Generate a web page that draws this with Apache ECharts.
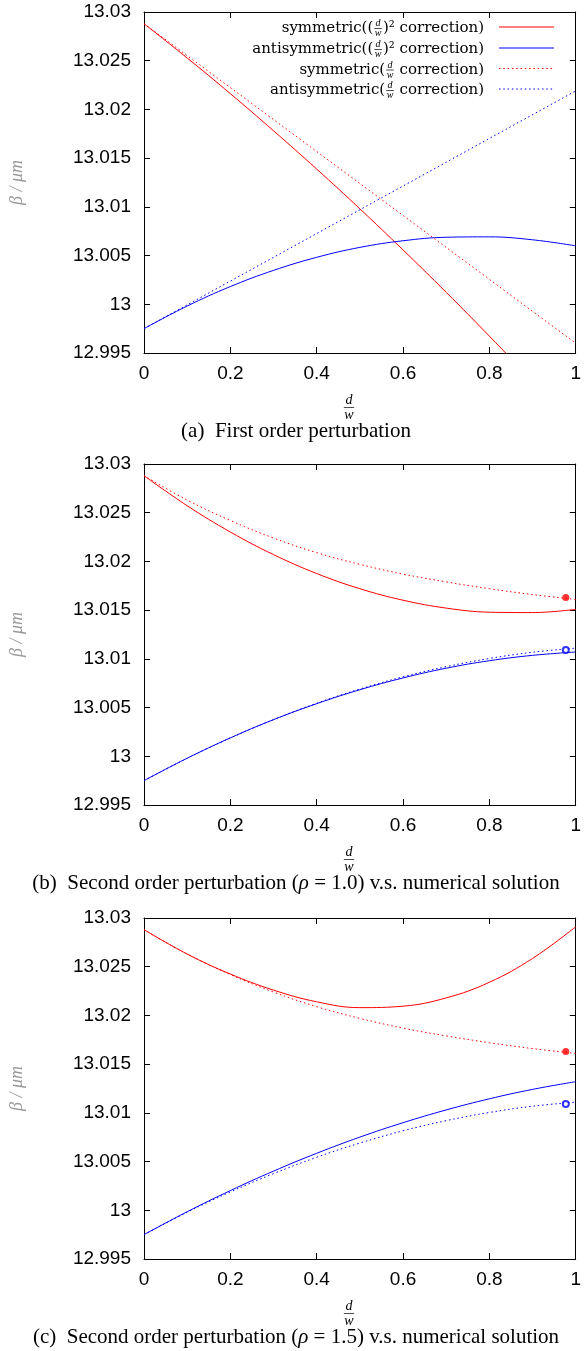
<!DOCTYPE html>
<html>
<head>
<meta charset="utf-8">
<script src="https://cdn.jsdelivr.net/npm/echarts@6/dist/echarts.min.js"></script>
<style>
html, body { margin: 0; padding: 0; background: #fff; }
#chart { width: 584px; height: 1351px; }
</style>
</head>
<body>
<div id="chart"></div>
<script>
// 横坐标取样点 d/w
const xs = [0, 0.1, 0.2, 0.3, 0.4, 0.5, 0.6, 0.7, 0.8, 0.9, 1]
const xsLine = [0, 1]
const xTicks = [0, 0.2, 0.4, 0.6, 0.8, 1]
const yTicks = [12.995, 13, 13.005, 13.01, 13.015, 13.02, 13.025, 13.03]

// (a) 一阶微扰
const aSymQuad = [13.02880, 13.02528, 13.02162, 13.01781, 13.01388, 13.00980, 13.00558, 13.00123, 12.99673, 12.99210, 12.98733]
const aAntiQuad = [12.99750, 12.99982, 13.00182, 13.00348, 13.00482, 13.00584, 13.00652, 13.00688, 13.00692, 13.00662, 13.00600]
const aSymLin = [13.0288, 12.9960]
const aAntiLin = [12.9975, 13.0219]

// (b) 二阶微扰 rho = 1.0
const bSymQuad = [13.02880, 13.02572, 13.02302, 13.02070, 13.01876, 13.01720, 13.01602, 13.01521, 13.01479, 13.01475, 13.01508]
const bAntiQuad = [12.99750, 12.99980, 13.00189, 13.00376, 13.00540, 13.00683, 13.00804, 13.00904, 13.00981, 13.01036, 13.01070]

// (c) 二阶微扰 rho = 1.5
const cSymQuad = [13.02880, 13.02630, 13.02425, 13.02260, 13.02140, 13.02080, 13.02095, 13.02180, 13.02340, 13.02585, 13.02910]
const cAntiQuad = [12.99750, 12.99985, 13.00202, 13.00402, 13.00585, 13.00751, 13.00899, 13.01030, 13.01144, 13.01241, 13.01320]

// (b)(c) 中的虚线
const dotSym = [13.02880, 13.02630, 13.02420, 13.02240, 13.02090, 13.01970, 13.01870, 13.01790, 13.01720, 13.01660, 13.01610]
const dotAnti = [12.99750, 12.99980, 13.00188, 13.00376, 13.00544, 13.00690, 13.00816, 13.00920, 13.01004, 13.01068, 13.01110]

// 数值解
const numX = [0.977]
const numSym = [13.0163]
const numAnti = [13.0109]

const captions = [
    '(a)  First order perturbation',
    '(b)  Second order perturbation ({i|ρ} = 1.0) v.s. numerical solution',
    '(c)  Second order perturbation ({i|ρ} = 1.5) v.s. numerical solution'
]

const RED = '#ff0000'
const BLUE = '#0000ff'
const SANS = "'Liberation Sans', Arial, sans-serif"
const SERIF = "'Liberation Serif', 'Times New Roman', serif"
const LEG_FONT = "'DejaVu Serif', serif"
const DOT = [1.5, 2.8]

const gridTops = [12, 464, 918]
const gridH = 341
const gridL = 137
const gridW = 441

function pairs(x, y) {
    return x.map((v, i) => [v, y[i]])
}

const grids = []
const xAxes = []
const yAxes = []
gridTops.forEach((top, i) => {
    grids.push({ left: gridL, top: top, width: gridW, height: gridH, containLabel: false })
    const xBase = {
        gridIndex: i, type: 'value', min: xTicks[0], max: xTicks[xTicks.length - 1], interval: 0.2,
        axisLine: { show: true, onZero: false, lineStyle: { color: '#000', width: 1 } },
        axisTick: { show: true, inside: true, length: 6, lineStyle: { color: '#000' } },
        splitLine: { show: false }
    }
    xAxes.push(Object.assign({}, xBase, {
        position: 'bottom',
        axisLabel: { show: true, margin: 11, color: '#000', fontSize: 19, fontFamily: SANS }
    }))
    xAxes.push(Object.assign({}, xBase, { position: 'top', axisLabel: { show: false } }))
    const yBase = {
        gridIndex: i, type: 'value', min: yTicks[0], max: yTicks[yTicks.length - 1], interval: 0.005,
        axisLine: { show: true, onZero: false, lineStyle: { color: '#000', width: 1 } },
        axisTick: { show: true, inside: true, length: 6, lineStyle: { color: '#000' } },
        splitLine: { show: false }
    }
    yAxes.push(Object.assign({}, yBase, {
        position: 'left',
        name: 'β / μm',
        nameLocation: 'middle',
        nameRotate: 90,
        nameGap: 118,
        nameTextStyle: { color: '#999', fontSize: 18, fontFamily: SERIF, fontStyle: 'italic' },
        axisLabel: {
            show: true, margin: 13, color: '#000', fontSize: 19, fontFamily: SANS,
            formatter: v => String(+v.toFixed(3))
        }
    }))
    yAxes.push(Object.assign({}, yBase, { position: 'right', axisLabel: { show: false } }))
})

function line(i, x, y, color, dotted) {
    return {
        type: 'line', xAxisIndex: 2 * i, yAxisIndex: 2 * i,
        data: pairs(x, y), symbol: 'none', smooth: x.length > 2 ? 0.4 : false, clip: true,
        lineStyle: { color: color, width: 1, type: dotted ? DOT : 'solid' },
        silent: true
    }
}

function point(i, y, color, filled) {
    return {
        type: 'scatter', xAxisIndex: 2 * i, yAxisIndex: 2 * i,
        data: pairs(numX, y), symbol: filled ? 'circle' : 'emptyCircle', symbolSize: filled ? 7 : 6,
        itemStyle: { color: color, borderColor: color, borderWidth: filled ? 0 : 1 },
        silent: true, z: 5
    }
}

const series = [
    line(0, xs, aSymQuad, RED, false),
    line(0, xs, aAntiQuad, BLUE, false),
    line(0, xsLine, aSymLin, RED, true),
    line(0, xsLine, aAntiLin, BLUE, true),
    line(1, xs, bSymQuad, RED, false),
    line(1, xs, bAntiQuad, BLUE, false),
    line(1, xs, dotSym, RED, true),
    line(1, xs, dotAnti, BLUE, true),
    point(1, numSym, RED, true),
    point(1, numAnti, BLUE, false),
    line(2, xs, cSymQuad, RED, false),
    line(2, xs, cAntiQuad, BLUE, false),
    line(2, xs, dotSym, RED, true),
    line(2, xs, dotAnti, BLUE, true),
    point(2, numSym, RED, true),
    point(2, numAnti, BLUE, false)
]

// 文本测量
const ctx = document.createElement('canvas').getContext('2d')
function textW(str, size, family, style) {
    ctx.font = (style || 'normal') + ' normal ' + size + 'px ' + family
    return ctx.measureText(str).width
}

// 竖排分数 d/w
function frac(cx, cy, size, gap) {
    const w = Math.max(textW('d', size, SERIF, 'italic'), textW('w', size, SERIF, 'italic')) + 1
    const st = { fontSize: size, fontFamily: SERIF, fontStyle: 'italic', fill: '#000', align: 'center', verticalAlign: 'middle', textAlign: 'center', textVerticalAlign: 'middle' }
    return [
        { type: 'text', x: cx, y: cy - gap, style: Object.assign({ text: 'd' }, st), silent: true },
        { type: 'text', x: cx, y: cy + gap + 1, style: Object.assign({ text: 'w' }, st), silent: true },
        { type: 'line', shape: { x1: cx - w / 2, y1: cy + 0.5, x2: cx + w / 2, y2: cy + 0.5 }, style: { stroke: '#000', lineWidth: 0.7 }, silent: true }
    ]
}

const graphics = []

// 图例
const LEG_SIZE = 15
const FRAC_SIZE = 10
const legendRows = [
    { y: 27, pre: 'symmetric((', post: ')² correction)', color: RED, dotted: false },
    { y: 48, pre: 'antisymmetric((', post: ')² correction)', color: BLUE, dotted: false },
    { y: 68.5, pre: 'symmetric(', post: ' correction)', color: RED, dotted: true },
    { y: 89, pre: 'antisymmetric(', post: ' correction)', color: BLUE, dotted: true }
]
const legRight = 484
legendRows.forEach(r => {
    const postW = textW(r.post, LEG_SIZE, LEG_FONT)
    const fw = Math.max(textW('d', FRAC_SIZE, SERIF, 'italic'), textW('w', FRAC_SIZE, SERIF, 'italic')) + 2
    const fx = legRight - postW - fw / 2 - 0.5
    const ts = { fontSize: LEG_SIZE, fontFamily: LEG_FONT, fill: '#000', verticalAlign: 'middle', textVerticalAlign: 'middle' }
    graphics.push({ type: 'text', x: legRight, y: r.y + 1.5, silent: true,
        style: Object.assign({ text: r.post, align: 'right', textAlign: 'right' }, ts) })
    graphics.push({ type: 'text', x: legRight - postW - fw - 1, y: r.y + 1.5, silent: true,
        style: Object.assign({ text: r.pre, align: 'right', textAlign: 'right' }, ts) })
    frac(fx, r.y + 1, FRAC_SIZE, 4.5).forEach(g => graphics.push(g))
    graphics.push({ type: 'line', silent: true,
        shape: { x1: 499, y1: r.y, x2: 554, y2: r.y },
        style: { stroke: r.color, lineWidth: 1, lineDash: r.dotted ? DOT : null } })
})

// 横轴名称 与 子图标题
gridTops.forEach((top, i) => {
    const bottom = top + gridH
    frac(349, bottom + 54, 14, 7).forEach(g => graphics.push(g))
    graphics.push({
        type: 'text', x: 296, y: bottom + 78, silent: true,
        style: {
            text: captions[i], fontSize: 21, fontFamily: SERIF, fill: '#000',
            align: 'center', verticalAlign: 'middle', textAlign: 'center', textVerticalAlign: 'middle',
            rich: { i: { fontSize: 21, fontFamily: SERIF, fontStyle: 'italic', fill: '#000' } }
        }
    })
})

const chart = echarts.init(document.getElementById('chart'))
chart.setOption({
    animation: false,
    backgroundColor: '#fff',
    grid: grids,
    xAxis: xAxes,
    yAxis: yAxes,
    series: series,
    graphic: graphics
})
</script>
</body>
</html>
